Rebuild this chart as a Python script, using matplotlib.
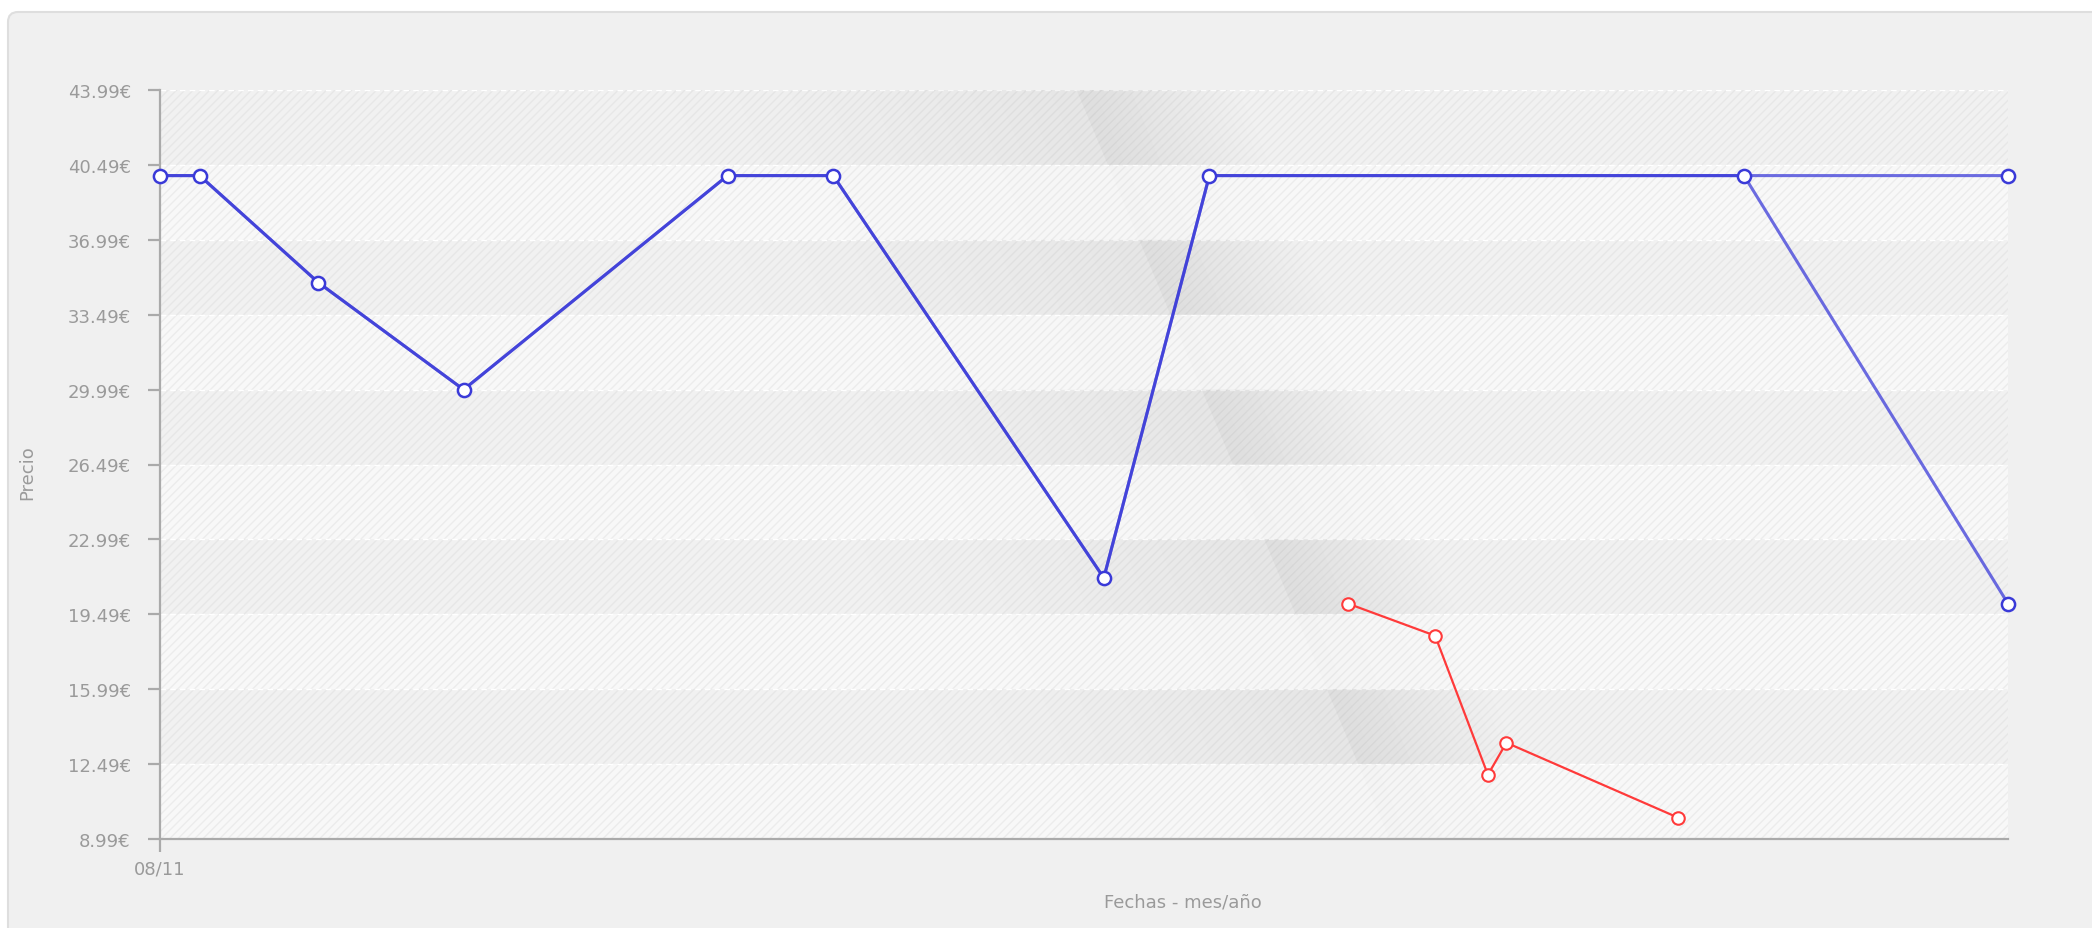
import numpy as np
import matplotlib.pyplot as plt
from matplotlib.patches import FancyBboxPatch, Polygon

# datos: dias desde 08/11 y precio en euros
dias_a = [0, 3, 12, 23, 43, 51, 71.5, 79.5, 120, 140]
precio_a = [39.99, 39.99, 34.99, 29.99, 39.99, 39.99, 21.19, 39.99, 39.99, 39.99]
dias_b = [0, 3, 12, 23, 43, 51, 71.5, 79.5, 120, 140]
precio_b = [39.99, 39.99, 34.99, 29.99, 39.99, 39.99, 21.19, 39.99, 39.99, 19.99]
dias_rojo = [90, 96.6, 100.6, 102, 115]
precio_rojo = [19.99, 18.49, 11.99, 13.49, 9.99]

y_ticks = [8.99, 12.49, 15.99, 19.49, 22.99, 26.49, 29.99, 33.49, 36.99, 40.49, 43.99]
x_ticks = [0]
x_labels = ['08/11']

plt.rcParams['hatch.linewidth'] = 1.0
grey = '#9a9a9a'

fig = plt.figure(figsize=(20.92, 9.29), dpi=100, facecolor='white')

# panel de fondo con esquinas redondeadas
panel = FancyBboxPatch((0.08, -0.3), 22, 9.16 + 0.3,
                       boxstyle='round,pad=0,rounding_size=0.1',
                       transform=fig.dpi_scale_trans,
                       facecolor='#f0f0f0', edgecolor='#dedede', lw=1.5, zorder=-5)
fig.patches.append(panel)

ax = fig.add_axes([160/2092, 1-840/929, (2008-160)/2092, (840-91)/929])
ax.set_zorder(2)
ax.set_xlim(0, 140)
ax.set_ylim(y_ticks[0], y_ticks[-1])
ax.set_facecolor('#f7f7f7')

# bandas alternas con rayado diagonal
for i in range(len(y_ticks)-1):
    lo, hi = y_ticks[i], y_ticks[i+1]
    dark = (i % 2 == 1)
    ax.axhspan(lo, hi, facecolor='#f1f1f1' if dark else '#f8f8f8', lw=0, zorder=0)
    ax.axhspan(lo, hi, facecolor='none', hatch='////',
               edgecolor='#e7e7e7' if dark else '#ececec', lw=0, zorder=0.5)

# sombra diagonal decorativa
edge_top, edge_bot = 69.7, 93.4
span = y_ticks[-1] - y_ticks[0]
def edge(y):
    return edge_top + (y_ticks[-1]-y)*(edge_bot-edge_top)/span
offs = np.linspace(-35, 12, 70)
for i in range(len(y_ticks)-1):
    lo, hi = y_ticks[i], y_ticks[i+1]
    k = 1.0 if i % 2 == 1 else 0.2
    for o1, o2 in zip(offs[:-1], offs[1:]):
        m = (o1+o2)/2
        if m < 0:
            a = 0.045*(1+m/35)**1.5
        else:
            a = 0.075*(1-m/12)
        poly = Polygon([(edge(lo)+o1, lo), (edge(lo)+o2, lo),
                        (edge(hi)+o2, hi), (edge(hi)+o1, hi)],
                       closed=True, facecolor='black', alpha=a*k, lw=0, zorder=0.7)
        poly.set_clip_path(ax.patch)
        ax.add_patch(poly)

ax.set_yticks(y_ticks)
ax.yaxis.grid(True, color='white', linestyle=(0, (4, 3)), lw=1, zorder=0.8)
ax.set_axisbelow(True)

# series
ax.plot(dias_a, precio_a, color='#3535d8', alpha=0.72, lw=2.2, zorder=3)
ax.plot(dias_b, precio_b, color='#3535d8', alpha=0.72, lw=2.2, zorder=3)
ax.plot(dias_b, precio_b, 'o', ms=9.5, mfc='white', mec='#3a3ad8', mew=1.8, zorder=4, clip_on=False)
ax.plot(dias_a[-1:], precio_a[-1:], 'o', ms=9.5, mfc='white', mec='#3a3ad8', mew=1.8, zorder=4, clip_on=False)
ax.plot(dias_rojo, precio_rojo, color='#ff3a3a', lw=1.6, zorder=3)
ax.plot(dias_rojo, precio_rojo, 'o', ms=9, mfc='white', mec='#ff3a3a', mew=1.5, zorder=4)

# ejes
for s in ['top', 'right']:
    ax.spines[s].set_visible(False)
for s in ['left', 'bottom']:
    ax.spines[s].set_color('#aaaaaa')
    ax.spines[s].set_linewidth(1.6)
ax.set_yticklabels([f'{v:.2f}€' for v in y_ticks])
ax.set_xticks(x_ticks)
ax.set_xticklabels(x_labels)
ax.tick_params(axis='both', colors='#aaaaaa', labelcolor=grey, labelsize=13,
               length=9, width=1.6, direction='out')
ax.tick_params(axis='y', pad=12)
ax.tick_params(axis='x', pad=6)

fig.text(27/2092, 1-473/929, 'Precio', rotation=90, ha='center', va='center',
         color=grey, fontsize=13)
fig.text(1183/2092, 1-903/929, 'Fechas - mes/año', ha='center', va='center',
         color=grey, fontsize=13)

fig.savefig('out.png', dpi=100, facecolor='white')
